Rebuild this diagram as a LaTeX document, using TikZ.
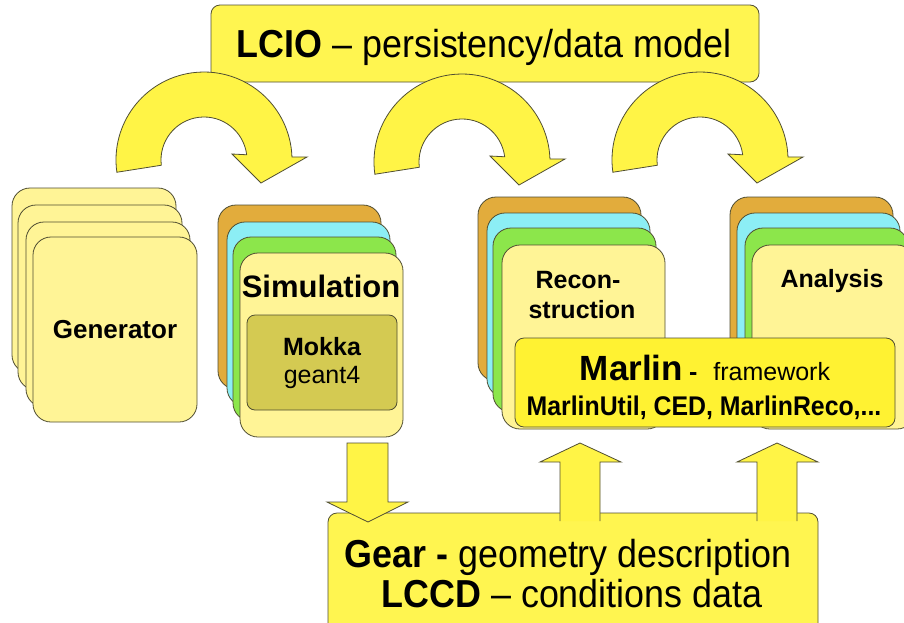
\documentclass[tikz,border=0pt]{standalone}
\usepackage{fontspec}
\setmainfont{Liberation Sans}
\usetikzlibrary{positioning}
\definecolor{EdgeGray}{RGB}{80,78,50}
\definecolor{LcioYellow}{RGB}{255,245,80}
\definecolor{ArrowYellow}{RGB}{255,244,70}
\definecolor{MarlinYellow}{RGB}{255,242,50}
\definecolor{PaleYellow}{RGB}{255,244,150}
\definecolor{StackOrange}{RGB}{226,172,60}
\definecolor{StackCyan}{RGB}{140,238,245}
\definecolor{StackGreen}{RGB}{140,230,75}
\definecolor{MokkaOlive}{RGB}{212,202,82}

\begin{document}
\begin{tikzpicture}[x=1pt,y=-1pt,
    edge/.style={draw=EdgeGray,line width=0.8pt},
    card/.style={edge,rounded corners=18pt},
    panel/.style={edge,rounded corners=9pt},
    blockarrow/.style={edge,fill=ArrowYellow,line join=miter}]
  \clip (0,0) rectangle (904,622);
  \fill[white] (0,0) rectangle (904,622);

  % persistency layer on top
  \draw[panel,fill=LcioYellow] (211,5) rectangle (759,82);
  \node[anchor=base] (lcio) at (484,57) {\scalebox{0.92}[1]{\fontsize{39}{44}\selectfont\textbf{LCIO} – persistency/data model}};

  % curved arrows through LCIO
  \foreach \cx/\cy in {204/160,462/162,700/160}{
    \begin{scope}[shift={(\cx,\cy)}]
      \draw[blockarrow] (172:88) arc[start angle=172,end angle=358,radius=88]
        -- (103,-3) -- (57,23) -- (28,-6) -- (353:43)
        arc[start angle=353,end angle=173,radius=43] -- cycle;
    \end{scope}
  }

  % generator stack
  \foreach \x/\y in {12/188,18/205,26/222,33/237}
    \draw[card,fill=PaleYellow] (\x,\y) rectangle ++(164,185);
  \node[anchor=base] (gen) at (115,338) {\fontsize{26}{30}\selectfont\bfseries Generator};

  % simulation stack
  \foreach \x/\y/\c in {218/205/StackOrange,227/222/StackCyan,233/237/StackGreen,240/253/PaleYellow}
    \draw[card,fill=\c] (\x,\y) rectangle ++(163,184);
  \node[anchor=base] (sim) at (321,297) {\fontsize{31}{36}\selectfont\bfseries Simulation};
  \draw[panel,fill=MokkaOlive,rounded corners=8pt] (247,315) rectangle (397,410);
  \node[anchor=base] (mokka) at (322,355) {\fontsize{25}{30}\selectfont\bfseries Mokka};
  \node[anchor=base] (geant) at (322,383) {\fontsize{25}{30}\selectfont geant4};

  % reconstruction and analysis stacks
  \foreach \x/\y/\c in {478/197/StackOrange,487/213/StackCyan,493/228/StackGreen,502/245/PaleYellow,
                        730/197/StackOrange,737/213/StackCyan,745/228/StackGreen,752/245/PaleYellow}
    \draw[card,fill=\c] (\x,\y) rectangle ++(163,184);
  \node[anchor=base] (recon) at (578,288) {\fontsize{25}{30}\selectfont\bfseries Recon-};
  \node[anchor=base] (struct) at (582,318) {\fontsize{25}{30}\selectfont\bfseries struction};
  \node[anchor=base] (ana) at (832,287) {\fontsize{25}{30}\selectfont\bfseries Analysis};

  % Marlin framework
  \draw[panel,fill=MarlinYellow] (515,338) rectangle (895,427);
  \node[anchor=base] (marlin) at (705,380) {\fontsize{35}{40}\selectfont\textbf{Marlin}\hspace{6pt}{\fontsize{25}{30}\selectfont\textbf{-}\hspace{16pt}framework}};
  \node[anchor=base] (tools) at (704,415) {\scalebox{0.92}[1]{\fontsize{27}{30}\selectfont\bfseries MarlinUtil, CED, MarlinReco,...}};

  % geometry and conditions
  \draw[panel,fill=LcioYellow] (328,513) rectangle (818,660);
  \node[anchor=base] (gear) at (568,567) {\scalebox{0.92}[1]{\fontsize{39}{44}\selectfont\textbf{Gear -} geometry description}};
  \node[anchor=base] (lccd) at (572,607) {\scalebox{0.92}[1]{\fontsize{39}{44}\selectfont\textbf{LCCD} – conditions data}};

  % block arrows to and from Gear
  \draw[blockarrow] (347,443) -- (388,443) -- (388,502) -- (408,502) -- (368,522)
    -- (327,502) -- (347,502) -- cycle;
  \foreach \ax in {580,777}
    \draw[blockarrow] (\ax-20,521) -- (\ax-20,462) -- (\ax-40,462) -- (\ax,443)
      -- (\ax+41,462) -- (\ax+20,462) -- (\ax+20,521);
\end{tikzpicture}
\end{document}
